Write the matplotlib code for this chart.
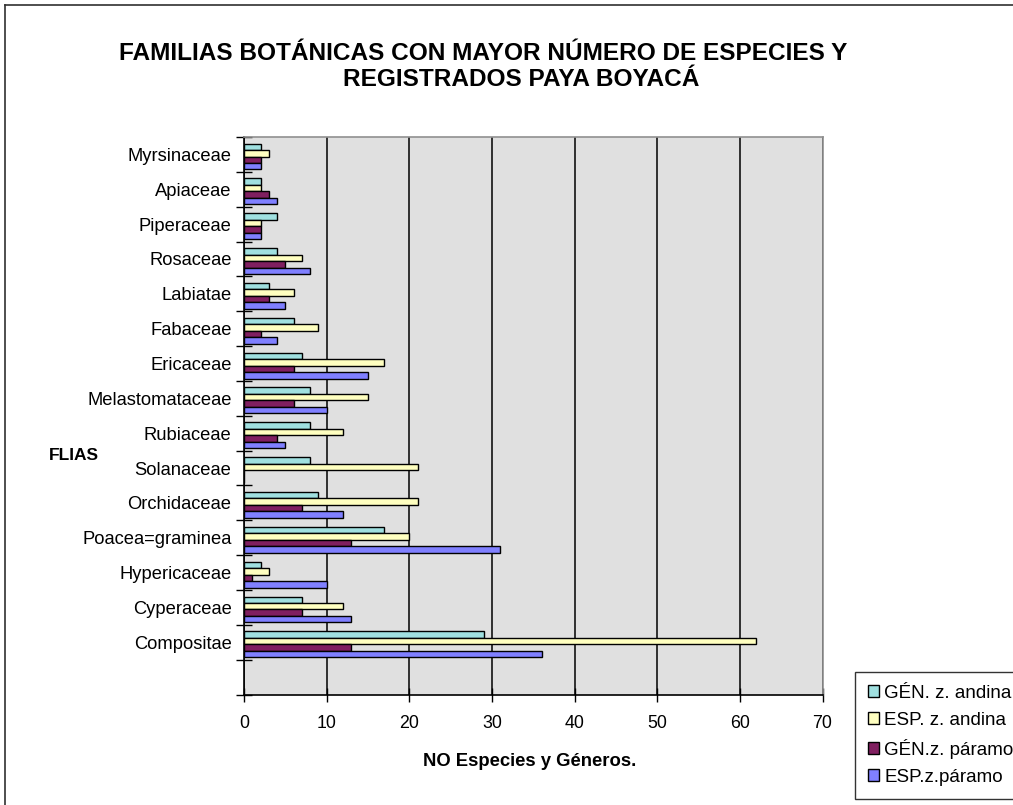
import matplotlib
matplotlib.use("Agg")
import matplotlib.pyplot as plt
from matplotlib.lines import Line2D
import numpy as np

plt.rcParams['font.family'] = ['Liberation Sans', 'DejaVu Sans']

# Families listed bottom-to-top as drawn on the axis
families = ["Compositae", "Cyperaceae", "Hypericaceae", "Poacea=graminea",
            "Orchidaceae", "Solanaceae", "Rubiaceae", "Melastomataceae",
            "Ericaceae", "Fabaceae", "Labiatae", "Rosaceae", "Piperaceae",
            "Apiaceae", "Myrsinaceae"]
gen_andina = [29, 7, 2, 17, 9, 8, 8, 8, 7, 6, 3, 4, 4, 2, 2]
esp_andina = [62, 12, 3, 20, 21, 21, 12, 15, 17, 9, 6, 7, 2, 2, 3]
gen_paramo = [13, 7, 1, 13, 7, 0, 4, 6, 6, 2, 3, 5, 2, 3, 2]
esp_paramo = [36, 13, 10, 31, 12, 0, 5, 10, 15, 4, 5, 8, 2, 4, 2]

series_labels = ["GÉN. z. andina", "ESP. z. andina", "GÉN.z. páramo", "ESP.z.páramo"]
series_values = [gen_andina, esp_andina, gen_paramo, esp_paramo]
series_colors = ["#A0E0E0", "#FFFFC0", "#801F60", "#8080FF"]
x_ticks = [0, 10, 20, 30, 40, 50, 60, 70]

W, H = 1013, 805
fig = plt.figure(figsize=(W / 100, H / 100), dpi=100)
fig.patch.set_facecolor("white")

# plot area in pixel coordinates
left, right, top, bottom = 244, 822.5, 137, 694.5
ax = fig.add_axes([left / W, 1 - bottom / H, (right - left) / W, (bottom - top) / H])
ax.set_facecolor("#E0E0E0")

n_slots = len(families) + 1          # one empty slot below the first family
centers = np.arange(len(families)) + 1.5
bar_h = 0.186
shift = -0.06
offsets = [1.5, 0.5, -0.5, -1.5]

handles = []
for vals, col, lab, off in zip(series_values, series_colors, series_labels, offsets):
    h = ax.barh(centers + shift + off * bar_h, vals, height=bar_h, color=col,
                edgecolor="black", linewidth=1.0, label=lab, zorder=3)
    handles.append(h)

ax.set_xlim(0, 70)
ax.set_ylim(0, n_slots)
ax.set_xticks(x_ticks)
ax.set_xticklabels([str(v) for v in x_ticks], fontsize=12.8)
ax.xaxis.grid(True, color="black", linewidth=1.1, zorder=1)
ax.set_axisbelow(True)

ax.set_yticks(np.arange(0, n_slots + 1))
ax.set_yticklabels([])
ax.set_yticks(centers, minor=True)
ax.set_yticklabels(families, minor=True, fontsize=13.2)
ax.tick_params(axis="y", which="major", direction="inout", length=12, width=1.0)
ax.tick_params(axis="y", which="minor", length=0, pad=9)
ax.tick_params(axis="x", which="major", direction="inout", length=10, width=1.0, pad=10)

for side in ("top", "right"):
    ax.spines[side].set_color("#909090")
    ax.spines[side].set_linewidth(1.2)
for side in ("left", "bottom"):
    ax.spines[side].set_color("black")
    ax.spines[side].set_linewidth(1.2)

# titles
fig.text(483 / W, 1 - 59.5 / H, "FAMILIAS BOTÁNICAS CON MAYOR NÚMERO DE ESPECIES Y",
         ha="center", va="baseline", fontsize=17.6, fontweight="bold")
fig.text(521 / W, 1 - 86.5 / H, "REGISTRADOS PAYA BOYACÁ",
         ha="center", va="baseline", fontsize=17.6, fontweight="bold")
fig.text(530 / W, 1 - 766 / H, "NO Especies y Géneros.",
         ha="center", va="baseline", fontsize=13.3, fontweight="bold")
fig.text(49 / W, 1 - 460 / H, "FLIAS",
         ha="left", va="baseline", fontsize=12.5, fontweight="bold")

# legend
leg = fig.legend(handles=handles, labels=series_labels, loc="upper left",
                 bbox_to_anchor=(855 / W, 1 - 671.5 / H), borderaxespad=0,
                 fontsize=13.5, frameon=True, fancybox=False, shadow=False,
                 handlelength=0.6, handleheight=0.6, handletextpad=0.25,
                 labelspacing=0.54, borderpad=0.7)
leg.get_frame().set_edgecolor("black")
leg.get_frame().set_linewidth(1.0)

# outer chart border (left and top edges)
fig.add_artist(Line2D([5 / W, 5 / W], [0, 1 - 5 / H], transform=fig.transFigure,
                      color="#303030", linewidth=1.2))
fig.add_artist(Line2D([5 / W, 1], [1 - 5 / H, 1 - 5 / H], transform=fig.transFigure,
                      color="#303030", linewidth=1.2))

fig.savefig("out.png", dpi=100)
